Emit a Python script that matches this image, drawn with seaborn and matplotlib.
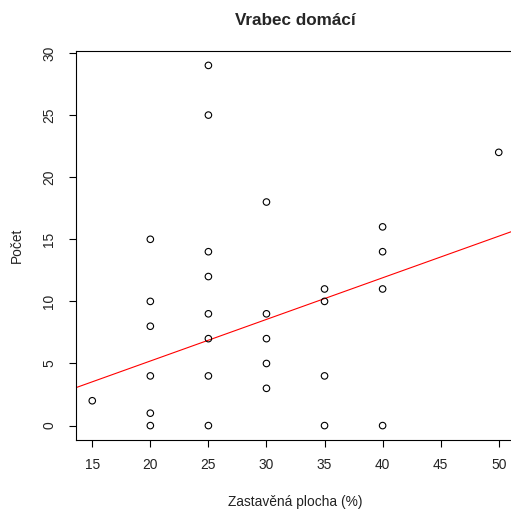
import matplotlib
matplotlib.use("Agg")
import matplotlib.pyplot as plt
import seaborn as sns
import pandas as pd

# Data
plocha = [15, 20, 20, 20, 20, 20, 20, 25, 25, 25, 25, 25, 25, 25, 25,
          30, 30, 30, 30, 30, 35, 35, 35, 35, 40, 40, 40, 40, 50]
pocet = [2, 0, 1, 4, 8, 10, 15, 0, 4, 7, 9, 12, 14, 25, 29,
         3, 5, 7, 9, 18, 0, 4, 10, 11, 0, 11, 14, 16, 22]
line_intercept = -1.5
line_slope = 0.335
x_ticks = [15, 20, 25, 30, 35, 40, 45, 50]
y_ticks = [0, 5, 10, 15, 20, 25, 30]

df = pd.DataFrame({"plocha": plocha, "pocet": pocet})

sns.set_theme(style="white")
plt.rcParams["font.family"] = ["Liberation Sans", "DejaVu Sans"]

fig = plt.figure(figsize=(5.11, 5.12), dpi=100)
ax = fig.add_axes([76/511, 1 - 440/512, (515 - 76)/511, (440 - 51)/512])

sns.scatterplot(data=df, x="plocha", y="pocet", ax=ax, marker="o",
                facecolor="none", edgecolor="black", s=22, linewidth=0.8,
                legend=False, zorder=3)
ax.axline((0, line_intercept), slope=line_slope, color="red", linewidth=0.8, zorder=2)

ax.set_xlim(13.6, 51.4)
ax.set_ylim(-1.16, 30.16)
ax.set_xticks(x_ticks)
ax.set_yticks(y_ticks)
ax.set_yticklabels([str(v) for v in y_ticks], rotation=90, va="center")
ax.tick_params(axis="both", direction="out", length=5.2, width=0.8, color="black",
               labelsize=9.9, labelcolor="#222222", bottom=True, left=True)
ax.tick_params(axis="x", pad=8)
ax.tick_params(axis="y", pad=9)
for s in ax.spines.values():
    s.set_color("black")
    s.set_linewidth(0.8)
    s.set_visible(True)

ax.set_xlabel("Zastavěná plocha (%)", fontsize=9.9, color="#222222", labelpad=16)
ax.set_ylabel("Počet", fontsize=9.9, color="#222222", labelpad=13)
ax.set_title("Vrabec domácí", fontsize=12.3, fontweight="bold", pad=19)
ax.grid(False)

fig.savefig("out.png", dpi=100)
